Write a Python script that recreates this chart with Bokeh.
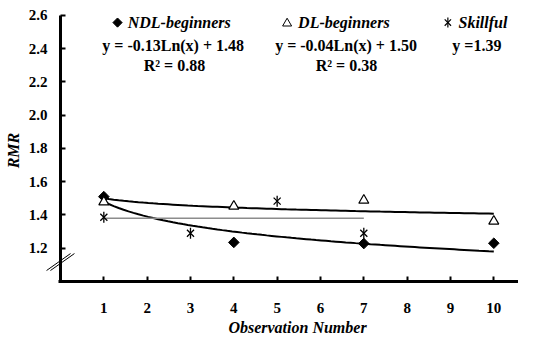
import numpy as np
from bokeh.plotting import figure
from bokeh.models import Label, FixedTicker, Range1d
from bokeh.embed import file_html
from bokeh.resources import INLINE

# ---- data ----
obs_ndl = [1, 4, 7, 10]
rmr_ndl = [1.51, 1.235, 1.228, 1.23]
obs_dl = [1, 4, 7, 10]
rmr_dl = [1.478, 1.452, 1.488, 1.362]
obs_sk = [1, 3, 5, 7]
rmr_sk = [1.386, 1.29, 1.483, 1.29]
skill_level = 1.38          # horizontal reference line of Skillful
skill_span = [1, 7]
ndl_fit = [-0.13, 1.48]     # y = a*Ln(x) + b
dl_fit = [-0.04, 1.50]
fit_span = [1, 10]
x_ticks = [1, 2, 3, 4, 5, 6, 7, 8, 9, 10]
y_ticks = [1.2, 1.4, 1.6, 1.8, 2.0, 2.2, 2.4, 2.6]
y_tick_labels = ["1.2", "1.4", "1.6", "1.8", "2.0", "2.2", "2.4", "2.6"]

FONT = "Liberation Serif"
W, H = 518, 335
X0_PX, Y0_PX = 60, 281          # where (0, 1.0) sits on the canvas
PX_X, PX_Y = 43.33, 166.4       # pixels per unit

p = figure(width=W, height=H, output_backend="svg", toolbar_location=None,
           x_range=Range1d(-X0_PX / PX_X, (W - X0_PX) / PX_X),
           y_range=Range1d(1.0 - (H - Y0_PX) / PX_Y, 1.0 + Y0_PX / PX_Y),
           min_border_left=0, min_border_right=0, min_border_top=0, min_border_bottom=0)
p.background_fill_color = "white"
p.border_fill_color = "white"
p.outline_line_color = None
p.grid.visible = False

for ax in (p.xaxis[0], p.yaxis[0]):
    ax.axis_line_width = 3
    ax.axis_line_color = "black"
    ax.major_tick_in = 5
    ax.major_tick_out = 0
    ax.major_tick_line_width = 2
    ax.major_tick_line_color = "black"
    ax.minor_tick_line_color = None
    ax.major_label_text_font = FONT
    ax.major_label_text_font_style = "bold"
    ax.major_label_text_font_size = "15px"
    ax.major_label_text_color = "black"

p.xaxis[0].fixed_location = 1.0
p.xaxis[0].bounds = (-0.035, (W - X0_PX) / PX_X)
p.xaxis[0].ticker = FixedTicker(ticks=x_ticks)
p.xaxis[0].major_label_standoff = 21
p.yaxis[0].fixed_location = 0
p.yaxis[0].bounds = (1.0, 2.6)
p.yaxis[0].ticker = FixedTicker(ticks=y_ticks)
p.yaxis[0].major_label_overrides = {t: s for t, s in zip(y_ticks, y_tick_labels)}
p.yaxis[0].major_label_standoff = 13

# trend curves
xs = np.linspace(fit_span[0], fit_span[1], 80)
p.line(xs, ndl_fit[0] * np.log(xs) + ndl_fit[1], line_color="black", line_width=2)
p.line(xs, dl_fit[0] * np.log(xs) + dl_fit[1], line_color="black", line_width=2)
p.line(skill_span, [skill_level, skill_level], line_color="#8c8c8c", line_width=1.5)

# markers
p.scatter(obs_ndl, rmr_ndl, marker="square", angle=np.pi / 4, size=7.5,
          fill_color="black", line_color="black")
p.scatter(obs_dl, rmr_dl, marker="triangle", size=10, fill_color="white",
          line_color="black", line_width=1.2)
p.scatter(obs_sk, rmr_sk, marker="x", size=10, line_color="black", line_width=1.3)
p.scatter(obs_sk, rmr_sk, marker="dash", angle=np.pi / 2, size=11, line_color="black", line_width=1.3)


def lab(x, y, text, style="bold", size="16px", align="center", angle=0):
    p.add_layout(Label(x=x, y=y, text=text, text_font=FONT, text_font_style=style,
                       text_font_size=size, text_align=align, text_baseline="middle",
                       text_color="black", angle=angle))


# legend-like header
row1, row2, row3 = 2.556, 2.418, 2.298
p.scatter([1.316], [row1], marker="square", angle=np.pi / 4, size=6.5, fill_color="black", line_color="black")
lab(2.74, row1, "NDL-beginners", "bold italic")
p.scatter([5.23], [row1 - 0.005], marker="triangle", size=9, fill_color="white", line_color="black", line_width=1)
lab(6.54, row1, "DL-beginners", "bold italic")
p.scatter([8.94], [row1], marker="x", size=9, line_color="black", line_width=1.2)
p.scatter([8.94], [row1], marker="dash", angle=np.pi / 2, size=10, line_color="black", line_width=1.2)
lab(9.75, row1, "Skillful", "bold italic")
lab(2.60, row2, "y = -0.13Ln(x) + 1.48")
lab(6.59, row2, "y = -0.04Ln(x) + 1.50")
lab(9.61, row2, "y =1.39")
lab(2.63, row3, "R\u00b2 = 0.88")
lab(6.60, row3, "R\u00b2 = 0.38")

# axis titles
lab(-1.096, 1.787, "RMR", "bold italic", "16px", angle=np.pi / 2)
lab(5.47, 0.722, "Observation Number", "bold italic", "16px")

# axis break mark
brk_x = [-0.277, 0.277]
brk_y = [1.066, 1.168]
for dx in (-0.045, 0.045):
    p.line([brk_x[0] + dx, brk_x[1] + dx], brk_y, line_color="black", line_width=1)

open("out.html", "w").write(file_html(p, INLINE))
